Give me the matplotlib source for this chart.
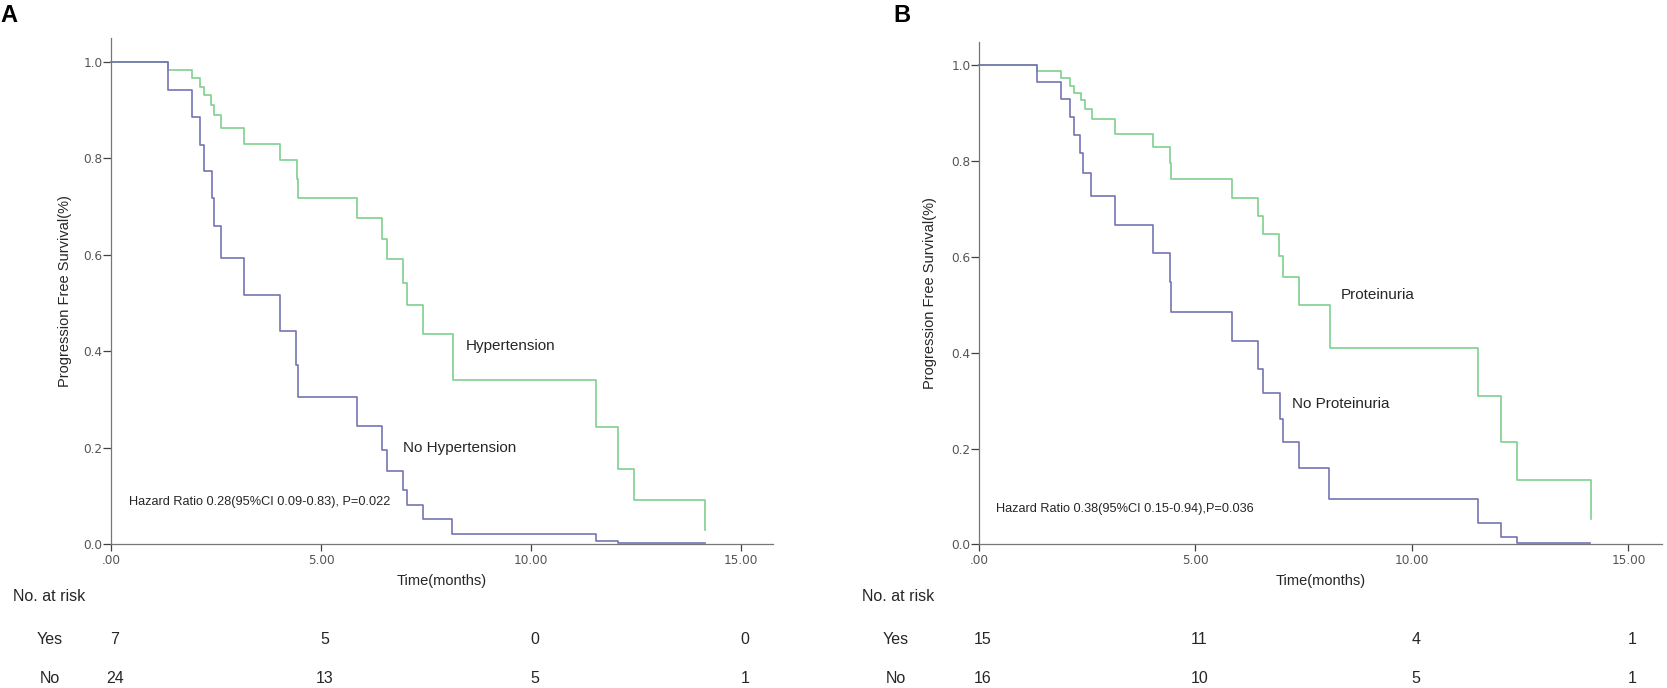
import matplotlib
matplotlib.use("Agg")
import matplotlib.pyplot as plt
import matplotlib.transforms as mtransforms

plt.rcParams['font.family'] = ['Liberation Sans', 'DejaVu Sans']

# ---- Panel A: hypertension ----
a_hyp_t = [0, 1.35, 1.94, 2.12, 2.21, 2.38, 2.46, 2.63, 3.17, 4.02, 4.42, 4.45,
           5.86, 6.46, 6.58, 6.96, 7.04, 7.42, 8.13, 11.54, 12.08, 12.45, 14.14]
a_hyp_s = [1.0, 0.983, 0.966, 0.948, 0.932, 0.910, 0.890, 0.864, 0.831, 0.796, 0.758, 0.719,
           0.676, 0.633, 0.591, 0.543, 0.496, 0.436, 0.341, 0.244, 0.156, 0.092, 0.031]
a_nohyp_t = [0, 1.35, 1.94, 2.12, 2.21, 2.40, 2.45, 2.61, 3.17, 4.02, 4.40, 4.44,
             5.85, 6.44, 6.57, 6.96, 7.04, 7.42, 8.11, 11.55, 12.08, 14.14]
a_nohyp_s = [1.0, 0.943, 0.887, 0.829, 0.774, 0.718, 0.661, 0.594, 0.517, 0.443, 0.372, 0.306,
             0.246, 0.196, 0.153, 0.113, 0.082, 0.052, 0.022, 0.008, 0.0025, 0.0025]

# ---- Panel B: proteinuria ----
b_pro_t = [0, 1.33, 1.89, 2.10, 2.20, 2.35, 2.45, 2.60, 3.15, 4.01, 4.41, 4.43,
           5.84, 6.44, 6.57, 6.94, 7.03, 7.39, 8.11, 11.52, 12.06, 12.42, 14.13]
b_pro_s = [1.0, 0.989, 0.973, 0.957, 0.942, 0.928, 0.909, 0.888, 0.858, 0.829, 0.796, 0.762,
           0.723, 0.686, 0.648, 0.602, 0.559, 0.501, 0.411, 0.310, 0.213, 0.135, 0.053]
b_nopro_t = [0, 1.33, 1.89, 2.10, 2.20, 2.33, 2.41, 2.59, 3.15, 4.01, 4.41, 4.43,
             5.84, 6.44, 6.56, 6.95, 7.03, 7.39, 8.09, 11.52, 12.06, 12.42, 14.11]
b_nopro_s = [1.0, 0.966, 0.930, 0.893, 0.855, 0.818, 0.776, 0.728, 0.668, 0.608, 0.547, 0.486,
             0.425, 0.367, 0.317, 0.262, 0.214, 0.160, 0.094, 0.044, 0.016, 0.004, 0.004]

risk_times = [0, 5, 10, 15]
a_risk_yes = [7, 5, 0, 0]
a_risk_no = [24, 13, 5, 1]
b_risk_yes = [15, 11, 4, 1]
b_risk_no = [16, 10, 5, 1]

x_ticks = [0, 5, 10, 15]
x_ticklabels = ['.00', '5.00', '10.00', '15.00']
y_ticks = [0.0, 0.2, 0.4, 0.6, 0.8, 1.0]
y_ticklabels = ['0.0', '0.2', '0.4', '0.6', '0.8', '1.0']

GREEN = '#7fd08d'
BLUE = '#7474b4'
AXIS = '#767676'
TXT = '#262626'

fig = plt.figure(figsize=(16.67, 6.88), dpi=100)


def draw_panel(rect, xmax, yes_t, yes_s, no_t, no_s, yes_name, no_name,
               yes_pos, no_pos, hr_text, hr_pos, ylab_x):
    ax = fig.add_axes(rect)
    ax.step(yes_t, yes_s, where='post', color=GREEN, lw=1.2, clip_on=False)
    ax.step(no_t, no_s, where='post', color=BLUE, lw=1.2, clip_on=False)
    ax.set_xlim(0, xmax)
    ax.set_ylim(0, 1.05)
    for s in ['top', 'right']:
        ax.spines[s].set_visible(False)
    for s in ['left', 'bottom']:
        ax.spines[s].set_color(AXIS)
        ax.spines[s].set_linewidth(0.9)
    ax.set_xticks(x_ticks)
    ax.set_xticklabels(x_ticklabels)
    ax.set_yticks(y_ticks)
    ax.set_yticklabels(y_ticklabels)
    ax.tick_params(axis='y', length=5.5, width=0.9, color='#404040', pad=0.5,
                   labelsize=8.7, labelcolor='#555555')
    ax.tick_params(axis='x', length=5, width=0.9, color='#404040', pad=2,
                   labelsize=8.7, labelcolor='#555555')
    for lab in ax.get_xticklabels() + ax.get_yticklabels():
        lab.set_family('DejaVu Sans')
    ax.set_xlabel('Time(months)', fontsize=10.5, color=TXT, labelpad=5)
    ax.set_ylabel('Progression Free Survival(%)', fontsize=10.5, color=TXT)
    ax.yaxis.set_label_coords(ylab_x, 0.5)
    ax.text(yes_pos[0], yes_pos[1], yes_name, fontsize=11, color=TXT, va='center')
    ax.text(no_pos[0], no_pos[1], no_name, fontsize=11, color=TXT, va='center')
    ax.text(hr_pos[0], hr_pos[1], hr_text, fontsize=9.2, color=TXT, va='center')
    return ax


axA = draw_panel([0.06659, 0.20858, 0.39712, 0.73637], 15.76,
                 a_hyp_t, a_hyp_s, a_nohyp_t, a_nohyp_s,
                 'Hypertension', 'No Hypertension', (8.45, 0.411), (6.95, 0.200),
                 'Hazard Ratio 0.28(95%CI 0.09-0.83), P=0.022', (0.43, 0.088), -0.059)
axB = draw_panel([0.58728, 0.20858, 0.40954, 0.73103], 15.77,
                 b_pro_t, b_pro_s, b_nopro_t, b_nopro_s,
                 'Proteinuria', 'No Proteinuria', (8.35, 0.521), (7.22, 0.293),
                 'Hazard Ratio 0.38(95%CI 0.15-0.94),P=0.036', (0.39, 0.074), -0.0615)

fig.text(0.0, 0.977, 'A', fontsize=17, fontweight='bold', va='center', ha='left')
fig.text(0.5357, 0.977, 'B', fontsize=17, fontweight='bold', va='center', ha='left')

# risk tables
for ax, label_x, name_x, yes, no in [(axA, 0.0078, 0.0300, a_risk_yes, a_risk_no),
                                     (axB, 0.5169, 0.5375, b_risk_yes, b_risk_no)]:
    fig.text(label_x, 0.1323, 'No. at risk', fontsize=11.5, color=TXT, va='center')
    fig.text(name_x, 0.0698, 'Yes', fontsize=11.5, color=TXT, va='center', ha='center')
    fig.text(name_x, 0.0131, 'No', fontsize=11.5, color=TXT, va='center', ha='center')
    trans = mtransforms.blended_transform_factory(ax.transData, fig.transFigure)
    trans = trans + mtransforms.ScaledTranslation(4 / 100, 0, fig.dpi_scale_trans)
    for t, y_val, n_val in zip(risk_times, yes, no):
        ax.text(t, 0.0698, str(y_val), transform=trans, fontsize=11.5, color=TXT,
                ha='center', va='center', clip_on=False)
        ax.text(t, 0.0131, str(n_val), transform=trans, fontsize=11.5, color=TXT,
                ha='center', va='center', clip_on=False)

fig.savefig('out.png', dpi=100)
